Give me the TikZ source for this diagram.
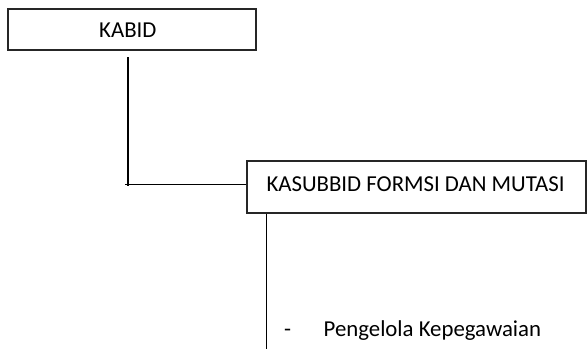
\documentclass[tikz,border=0pt]{standalone}
\usepackage{fontspec}
\setmainfont{Carlito}
\begin{document}
\begin{tikzpicture}[x=1pt,y=-1pt,
  box/.style={draw=black!85,line width=1.3pt,inner sep=0pt,rectangle},
  lbl/.style={anchor=base west,inner sep=0pt,font=\fontsize{22.8}{27}\selectfont},
  conn/.style={draw=black,line width=1.2pt}]
\useasboundingbox[fill=white] (0,0) rectangle (587,349);
\node[box,minimum width=248pt,minimum height=41pt] (kabid) at (132,29.5) {};
\node[lbl] (kabidtxt) at (99,37.7) {KABID};
\node[box,minimum width=339pt,minimum height=52pt] (kasub) at (416.5,187) {};
\node[lbl] (kasubtxt) at (266.3,191) {KASUBBID FORMSI DAN MUTASI};
\node[lbl] (staff) at (284,336) {\makebox[39.5pt][l]{-}Pengelola Kepegawaian};
\coordinate (a) at (127.5,57);
\coordinate (b) at (127.5,186);
\coordinate (c) at (125,184.3);
\coordinate (d) at (266,349);
\draw[conn,line width=2pt] (a) -- (b);
\draw[conn] (c) -- (kasub.west |- c);
\draw[conn,line width=1pt] (d |- kasub.south) -- (d);
\end{tikzpicture}
\end{document}
